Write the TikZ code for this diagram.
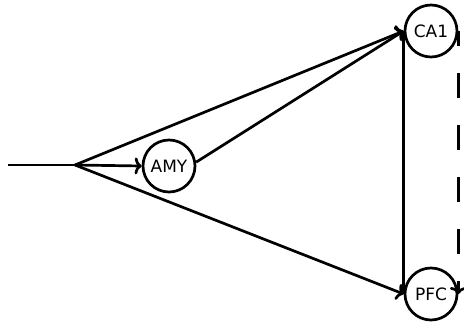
\documentclass[tikz,border=0pt]{standalone}
\usepackage{fontspec}
\setmainfont{DejaVu Sans}
\usetikzlibrary{arrows.meta}
\begin{document}
\begin{tikzpicture}[x=1pt,y=-1pt,
  region/.style={circle,draw,line width=2.7pt,minimum size=52pt,inner sep=0pt,font=\fontsize{17}{19}\selectfont},
  conn/.style={line width=2.7pt,-{To[length=7pt,width=17pt]}},
  plain/.style={line width=2.7pt}]
\useasboundingbox (0,0) rectangle (464,326);
\begin{scope}
\clip (0,0) rectangle (464,326);
\node[region] (CA1) at (431,31) {CA1};
\node[region] (PFC) at (431,294) {PFC};
\node[region] (AMY) at (169,166) {AMY};
\coordinate (in) at (8,165);
\coordinate (J) at (75,165);
\draw[plain] (in) -- (J);
\draw[conn] (J) -- (AMY.west);
\draw[conn] (J) -- (CA1.west);
\draw[conn] (J) -- (PFC.west);
\draw[conn] (AMY.8) -- (CA1.west);
\draw[plain] (CA1.west) -- (PFC.west);
\draw[conn,dash pattern=on 25pt off 27pt,dash phase=10pt] (CA1.east) -- (PFC.east);
\end{scope}
\end{tikzpicture}
\end{document}
